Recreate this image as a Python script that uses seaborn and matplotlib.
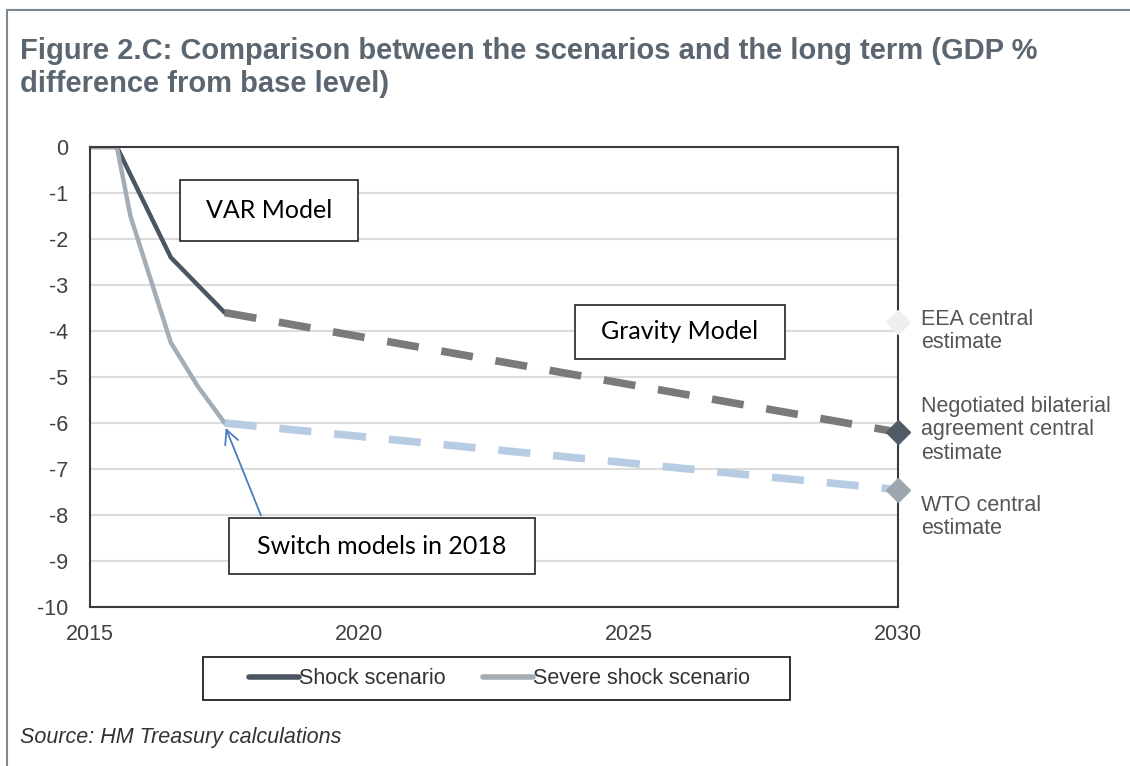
import matplotlib
matplotlib.use("Agg")
import matplotlib.pyplot as plt
import seaborn as sns
import pandas as pd
from matplotlib.lines import Line2D
from matplotlib.patches import Rectangle

# VAR model part (solid lines)
shock_years = [2015, 2015.5, 2016.5, 2017.5]
shock_var = [0, 0, -2.4, -3.6]
severe_years = [2015, 2015.5, 2015.75, 2016.5, 2017, 2017.5]
severe_var = [0, 0, -1.5, -4.25, -5.2, -6.0]

# Gravity model part (dashed lines)
grav_years = [2017.5, 2030]
shock_grav = [-3.6, -6.2]
severe_grav = [-6.0, -7.45]

# Long-term central estimates at 2030
est_labels = ["EEA central\nestimate",
              "Negotiated bilaterial\nagreement central\nestimate",
              "WTO central\nestimate"]
est_values = [-3.8, -6.2, -7.45]
est_colors = ["#eeeff1", "#4f5b66", "#9da6af"]

x_ticks = [2015, 2020, 2025, 2030]
y_ticks = list(range(0, -11, -1))

W, H = 1130, 766

sns.set_style("white")
plt.rcParams["font.family"] = ["Liberation Sans", "DejaVu Sans"]

fig = plt.figure(figsize=(W / 100, H / 100), dpi=100)

# outer frame (top and left only)
fig.add_artist(Line2D([7 / W, 1], [1 - 10 / H, 1 - 10 / H], transform=fig.transFigure,
                      color="#7d8893", lw=1.5))
fig.add_artist(Line2D([7 / W, 7 / W], [1 - 10 / H, 0], transform=fig.transFigure,
                      color="#7d8893", lw=1.5))

ax = fig.add_axes([90 / W, 159 / H, 808 / W, 460 / H])

df_shock = pd.DataFrame({"year": shock_years, "value": shock_var})
df_severe = pd.DataFrame({"year": severe_years, "value": severe_var})
df_grav = pd.DataFrame({"year": grav_years, "shock": shock_grav, "severe": severe_grav})

sns.lineplot(data=df_shock, x="year", y="value", ax=ax, color="#4b5662", lw=3.2, legend=False)
sns.lineplot(data=df_severe, x="year", y="value", ax=ax, color="#a4acb4", lw=3.2, legend=False)
sns.lineplot(data=df_grav, x="year", y="shock", ax=ax, color="#7a7a7a", lw=5.5,
             legend=False).lines[-1].set_dashes((4.2, 3.0))
sns.lineplot(data=df_grav, x="year", y="severe", ax=ax, color="#b7cbe3", lw=5.5,
             legend=False).lines[-1].set_dashes((4.2, 3.0))

for v, c in zip(est_values, est_colors):
    ax.plot([2030], [v], marker="D", ms=12, color=c, mec=c, clip_on=False, zorder=5)

ax.set_xlim(2015, 2030)
ax.set_ylim(-10, 0)
ax.set_xticks(x_ticks)
ax.set_yticks(y_ticks)
ax.set_xticklabels([str(t) for t in x_ticks])
ax.set_yticklabels([str(t) for t in y_ticks])
ax.tick_params(axis="both", length=0, labelsize=15.5, labelcolor="#404040")
ax.tick_params(axis="y", pad=16)
ax.tick_params(axis="x", pad=12)
ax.set_xlabel("")
ax.set_ylabel("")
ax.grid(axis="y", color="#dcdcdc", lw=1.5)
ax.set_axisbelow(True)
for s in ax.spines.values():
    s.set_color("#3a3a3a")
    s.set_linewidth(1.5)

# model text boxes (in figure pixels from top)
boxes = [("VAR Model", 180, 180, 178, 61),
         ("Gravity Model", 575, 305, 210, 54),
         ("Switch models in 2018", 229, 518, 306, 56)]
for txt, x0, y0, bw, bh in boxes:
    fig.add_artist(Rectangle((x0 / W, 1 - (y0 + bh) / H), bw / W, bh / H,
                             transform=fig.transFigure, facecolor="white",
                             edgecolor="#222222", lw=1.2, zorder=6))
    fig.text((x0 + bw / 2) / W, 1 - (y0 + bh / 2) / H, txt, ha="center", va="center",
             fontsize=18, family=["Lato", "DejaVu Sans"], color="black", zorder=7)

ax.annotate("", xy=(2017.5, -6.05), xytext=(262, H - 518), textcoords="figure pixels",
            arrowprops=dict(arrowstyle="->,head_length=1.0,head_width=0.5",
                            color="#4a7cc0", lw=1.3), zorder=7)

# estimate labels
label_y = [331, 430, 517]
for lab, yy in zip(est_labels, label_y):
    fig.text(921 / W, 1 - yy / H, lab, ha="left", va="center", fontsize=15.5,
             color="#555555", linespacing=1.15)

# title
fig.text(20 / W, 1 - 37 / H,
         "Figure 2.C: Comparison between the scenarios and the long term (GDP %\n"
         "difference from base level)",
         ha="left", va="top", fontsize=21, fontweight="bold", color="#5b6671",
         linespacing=1.22)

# legend: frame drawn separately so the box matches the reference
fig.add_artist(Rectangle((203 / W, 1 - 700 / H), 587 / W, 43 / H,
                         transform=fig.transFigure, facecolor="white",
                         edgecolor="#222222", lw=1.3, zorder=1))
handles = [Line2D([], [], color="#4b5662", lw=4),
           Line2D([], [], color="#a4acb4", lw=4)]
leg = fig.legend(handles, ["Shock scenario", "Severe shock scenario"], ncol=2,
                 loc="center", bbox_to_anchor=(499.5 / W, 1 - 679 / H),
                 fontsize=15.5, handlelength=2.3, handletextpad=0.0, columnspacing=1.75,
                 frameon=False, borderpad=0.0, borderaxespad=0)
leg.set_zorder(2)
for t in leg.get_texts():
    t.set_color("#333333")

fig.text(20 / W, 1 - 738 / H, "Source: HM Treasury calculations", ha="left", va="center",
         fontsize=15.5, style="italic", color="#333333")

fig.savefig("out.png", dpi=100)
